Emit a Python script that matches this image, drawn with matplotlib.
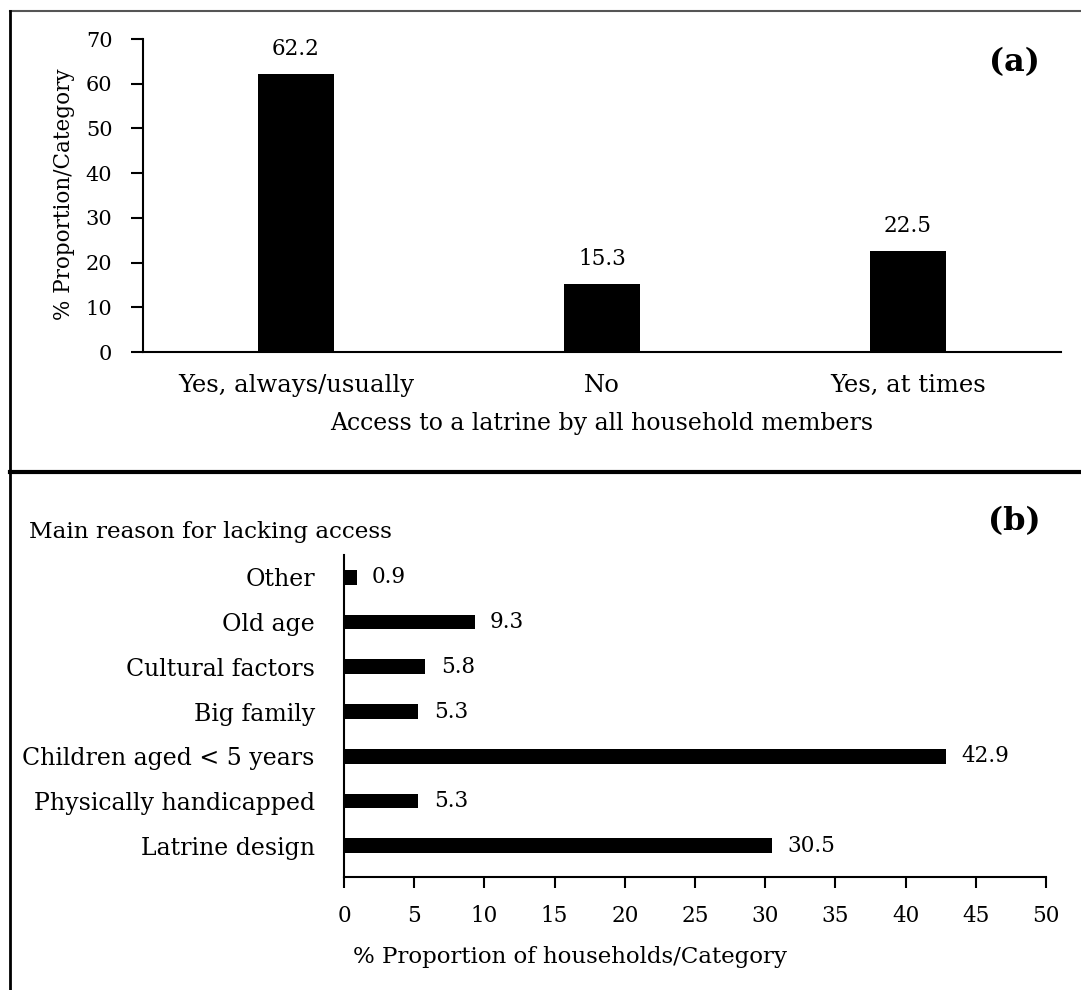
import matplotlib
matplotlib.use("Agg")
import matplotlib.pyplot as plt
from matplotlib.lines import Line2D

plt.rcParams['font.family'] = ['DejaVu Serif']

# Panel (a): access to a latrine
access_cats = ['Yes, always/usually', 'No', 'Yes, at times']
access_vals = [62.2, 15.3, 22.5]

# Panel (b): main reason for lacking access (bottom to top)
reason_cats = ['Latrine design', 'Physically handicapped', 'Children aged < 5 years',
               'Big family', 'Cultural factors', 'Old age', 'Other']
reason_vals = [30.5, 5.3, 42.9, 5.3, 5.8, 9.3, 0.9]

fig = plt.figure(figsize=(10.81, 9.9), dpi=100)

# ---- (a) vertical bars
ax1 = fig.add_axes([0.1323, 0.6444, 0.8492, 0.3162])
x = range(len(access_cats))
ax1.bar(x, access_vals, width=0.25, color='black')
ax1.set_xlim(-0.5, 2.5)
ax1.set_ylim(0, 70)
ax1.set_yticks(range(0, 71, 10))
ax1.set_xticks(list(x))
ax1.set_xticklabels(access_cats, fontsize=17.5)
ax1.tick_params(axis='x', length=0, pad=16)
ax1.tick_params(axis='y', direction='out', length=9, width=1.5, pad=13, labelsize=15)
for s in ['top', 'right']:
    ax1.spines[s].set_visible(False)
for s in ['left', 'bottom']:
    ax1.spines[s].set_linewidth(1.5)
for xi, v in zip(x, access_vals):
    ax1.annotate(f'{v}', (xi, v), xytext=(0, 18), textcoords='offset points',
                 ha='center', va='center', fontsize=15.5)

fig.text(0.059, 0.804, '% Proportion/Category', rotation=90, ha='center', va='center', fontsize=15.5)
fig.text(0.557, 0.5727, 'Access to a latrine by all household members', ha='center', va='center', fontsize=17)
fig.text(0.938, 0.9364, '(a)', ha='center', va='center', fontsize=23, fontweight='bold')

# ---- (b) horizontal bars
ax2 = fig.add_axes([0.3182, 0.1141, 0.6494, 0.3253])
y = range(len(reason_cats))
ax2.barh(y, reason_vals, height=0.33, color='black')
ax2.set_xlim(0, 50)
ax2.set_ylim(-0.7, 6.5)
ax2.set_xticks(range(0, 51, 5))
ax2.set_yticks(list(y))
ax2.set_yticklabels(reason_cats, fontsize=17)
ax2.tick_params(axis='y', length=0, pad=21)
ax2.tick_params(axis='x', direction='out', length=8, width=1.5, pad=12, labelsize=15.5)
for s in ['top', 'right']:
    ax2.spines[s].set_visible(False)
for s in ['left', 'bottom']:
    ax2.spines[s].set_linewidth(1.5)
for yi, v in zip(y, reason_vals):
    ax2.annotate(f'{v}', (v, yi), xytext=(11, 0), textcoords='offset points',
                 ha='left', va='center', fontsize=15.5)

fig.text(0.527, 0.0333, '% Proportion of households/Category', ha='center', va='center', fontsize=16.5)
fig.text(0.0268, 0.4626, 'Main reason for lacking access', ha='left', va='center', fontsize=16.7)
fig.text(0.938, 0.4727, '(b)', ha='center', va='center', fontsize=23, fontweight='bold')

# ---- frame lines
fig.add_artist(Line2D([0.0093, 1.0], [0.9889, 0.9889], color='#555555', lw=1.5))
fig.add_artist(Line2D([0.0093, 0.0093], [0.0, 0.9889], color='black', lw=2))
fig.add_artist(Line2D([0.0093, 1.0], [0.5232, 0.5232], color='black', lw=3))

fig.savefig('out.png', dpi=100)
